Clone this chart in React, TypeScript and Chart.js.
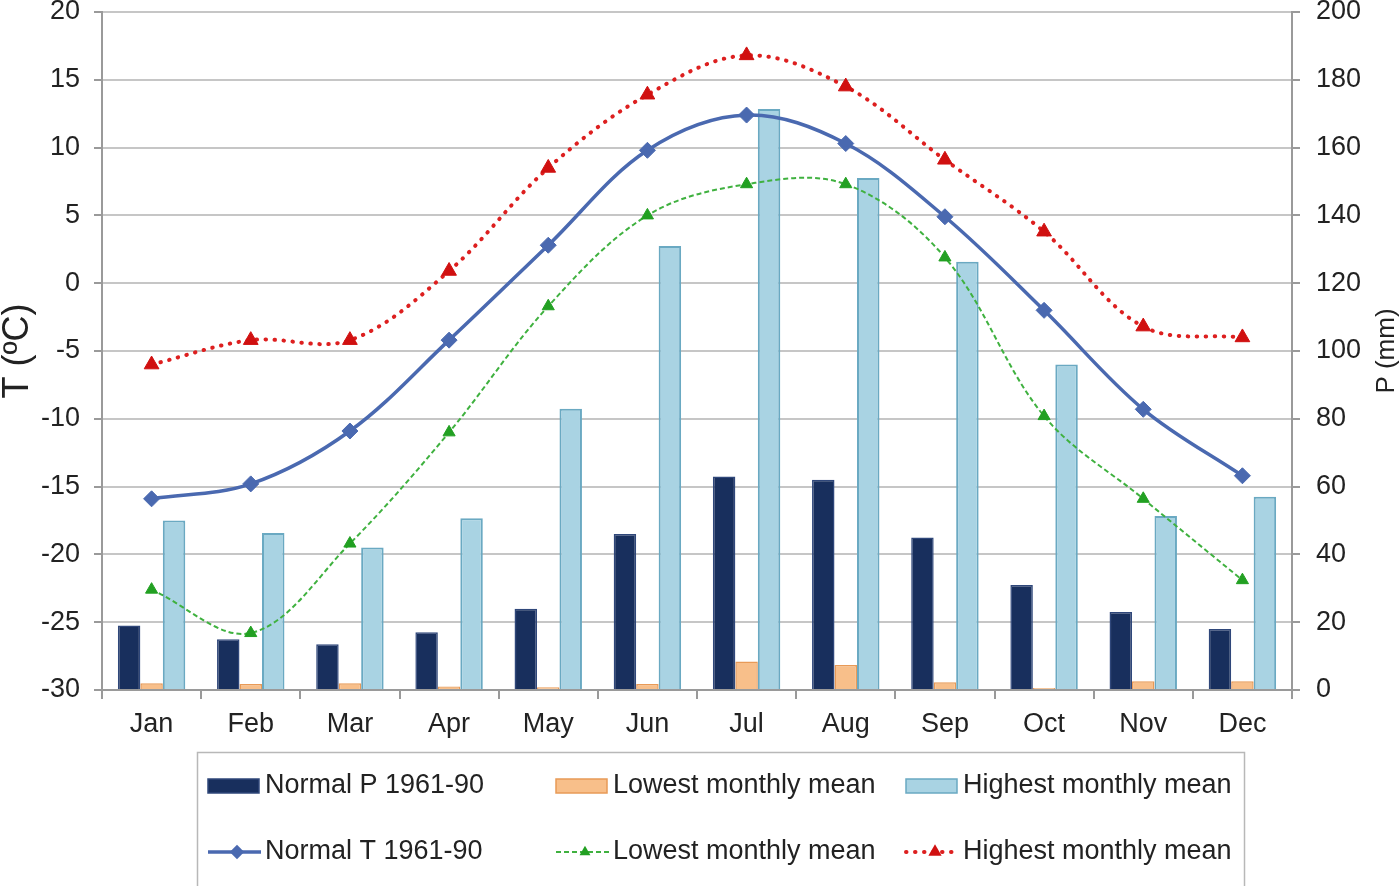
import React, { useEffect, useRef } from 'react';
import { Chart, registerables } from 'chart.js';

Chart.register(...registerables);

const months = ['Jan', 'Feb', 'Mar', 'Apr', 'May', 'Jun', 'Jul', 'Aug', 'Sep', 'Oct', 'Nov', 'Dec'];

// Precipitation (mm), right axis
const normalP = [19, 15, 13.5, 17, 24, 46, 63, 62, 45, 31, 23, 18];
const lowestP = [2, 1.8, 2, 1, 0.8, 1.8, 8.4, 7.4, 2.3, 0.6, 2.6, 2.6];
const highestP = [50, 46.3, 42, 50.7, 83, 131, 171.4, 151, 126.3, 96, 51.3, 57];

// Temperature (ºC), left axis
const normalT = [-15.9, -14.8, -10.9, -4.2, 2.8, 9.8, 12.4, 10.3, 4.9, -2.0, -9.3, -14.2];
const lowestT = [-22.6, -25.8, -19.2, -11.0, -1.7, 5.0, 7.3, 7.3, 1.9, -9.8, -15.9, -21.9];
const highestT = [-6.0, -4.2, -4.2, 0.9, 8.5, 13.9, 16.8, 14.5, 9.1, 3.8, -3.2, -4.0];

const tTicks = { min: -30, max: 20, step: 5 };
const pTicks = { min: 0, max: 200, step: 20 };

const FONT = '"Liberation Sans", Arial, Helvetica, sans-serif';
const TEXT = '#222222';
const AXIS = '#9a9a9a';
const GRID = '#c6c6c6';

function drawMarker(ctx: CanvasRenderingContext2D, style: string, cx: number, cy: number, r: number, color: string) {
  ctx.save();
  ctx.setLineDash([]);
  ctx.fillStyle = color;
  ctx.beginPath();
  if (style === 'rectRot') {
    ctx.moveTo(cx, cy - r);
    ctx.lineTo(cx + r, cy);
    ctx.lineTo(cx, cy + r);
    ctx.lineTo(cx - r, cy);
  } else {
    const h = r * 1.5;
    const w = r * Math.sqrt(3) / 2;
    ctx.moveTo(cx, cy - r);
    ctx.lineTo(cx + w, cy - r + h);
    ctx.lineTo(cx - w, cy - r + h);
  }
  ctx.closePath();
  ctx.fill();
  ctx.restore();
}

const boxLegend = {
  id: 'boxLegend',
  afterDraw(chart: any) {
    const ctx: CanvasRenderingContext2D = chart.ctx;
    ctx.save();
    // right axis title, reading bottom-to-top
    const ca = chart.chartArea;
    ctx.save();
    ctx.translate(1387, (ca.top + ca.bottom) / 2);
    ctx.rotate(-Math.PI / 2);
    ctx.font = `26px ${FONT}`;
    ctx.fillStyle = TEXT;
    ctx.textAlign = 'center';
    ctx.textBaseline = 'middle';
    ctx.fillText('P (mm)', 0, 0);
    ctx.restore();

    ctx.strokeStyle = '#b8b8b8';
    ctx.lineWidth = 1.5;
    ctx.strokeRect(197.5, 752.5, 1047, 160);
    const colX = [208, 556, 906];
    const rowY = [786, 852];
    ctx.font = `27px ${FONT}`;
    ctx.textBaseline = 'middle';
    ctx.fillStyle = TEXT;
    chart.data.datasets.forEach((ds: any, i: number) => {
      const x = colX[i % 3];
      const y = rowY[Math.floor(i / 3)];
      if (ds.type === 'bar') {
        ctx.fillStyle = ds.backgroundColor;
        ctx.fillRect(x, y - 7, 51, 14);
        ctx.strokeStyle = ds.borderColor;
        ctx.lineWidth = 1.5;
        ctx.strokeRect(x, y - 7, 51, 14);
      } else {
        ctx.save();
        ctx.strokeStyle = ds.borderColor;
        ctx.lineWidth = ds.borderWidth;
        ctx.lineCap = ds.borderCapStyle || 'butt';
        ctx.setLineDash(ds.borderDash || []);
        ctx.beginPath();
        ctx.moveTo(x, y);
        ctx.lineTo(x + 53, y);
        ctx.stroke();
        ctx.restore();
        drawMarker(ctx, ds.pointStyle, x + 29, y, ds.pointRadius * 0.9, ds.pointBackgroundColor);
      }
      ctx.fillStyle = TEXT;
      ctx.fillText(ds.label, x + 57, y);
    });
    ctx.restore();
  },
};

export default function App() {
  const ref = useRef<HTMLCanvasElement | null>(null);

  useEffect(() => {
    if (!ref.current) return;
    const tickFont = { family: FONT, size: 27 };
    const chart = new Chart(ref.current, {
      data: {
        labels: months,
        datasets: [
          {
            type: 'bar', label: 'Normal P 1961-90', data: normalP, yAxisID: 'yP', order: 2,
            backgroundColor: '#182f5d', borderColor: '#2f477a', borderWidth: 1.5,
          },
          {
            type: 'bar', label: 'Lowest monthly mean', data: lowestP, yAxisID: 'yP', order: 2,
            backgroundColor: '#f8bf8a', borderColor: '#e89a57', borderWidth: 1.5,
          },
          {
            type: 'bar', label: 'Highest monthly mean', data: highestP, yAxisID: 'yP', order: 2,
            backgroundColor: '#a9d3e3', borderColor: '#6aa9c2', borderWidth: 2,
          },
          {
            type: 'line', label: 'Normal T 1961-90', data: normalT, yAxisID: 'yT', order: 0,
            borderColor: '#4a69b0', borderWidth: 3.5, tension: 0.35, fill: false,
            pointStyle: 'rectRot', pointRadius: 8, pointBackgroundColor: '#4a69b0', pointBorderColor: '#4a69b0', pointBorderWidth: 1,
          },
          {
            type: 'line', label: 'Lowest monthly mean', data: lowestT, yAxisID: 'yT', order: 1,
            borderColor: '#3fb13f', borderWidth: 2, borderDash: [5, 3], tension: 0.35, fill: false,
            pointStyle: 'triangle', pointRadius: 7, pointBackgroundColor: '#22a022', pointBorderColor: '#22a022', pointBorderWidth: 1,
          },
          {
            type: 'line', label: 'Highest monthly mean', data: highestT, yAxisID: 'yT', order: 1,
            borderColor: '#dd1f1f', borderWidth: 4, borderDash: [0.5, 8.5], borderCapStyle: 'round', tension: 0.35, fill: false,
            pointStyle: 'triangle', pointRadius: 8.5, pointBackgroundColor: '#d01010', pointBorderColor: '#d01010', pointBorderWidth: 1,
          },
        ] as any,
      },
      options: {
        animation: false,
        responsive: false,
        devicePixelRatio: 1,
        layout: { padding: 0 },
        plugins: {
          legend: { display: false },
          tooltip: { enabled: false },
        },
        datasets: {
          bar: { categoryPercentage: 0.68, barPercentage: 1 },
        },
        scales: {
          x: {
            type: 'category',
            offset: true,
            grid: { offset: true, drawOnChartArea: false, drawTicks: true, tickLength: 9, color: AXIS, lineWidth: 2 },
            border: { color: AXIS, width: 2 },
            ticks: { font: tickFont, color: TEXT, padding: 9, maxRotation: 0 },
            afterFit: (s: any) => { s.height = 196; s.paddingLeft = 0; s.paddingRight = 0; },
          },
          yT: {
            type: 'linear',
            position: 'left',
            min: tTicks.min, max: tTicks.max,
            ticks: { stepSize: tTicks.step, font: tickFont, color: TEXT, padding: 14 },
            grid: { color: GRID, lineWidth: 2, tickLength: 8, tickColor: AXIS },
            border: { color: AXIS, width: 2 },
            title: { display: true, text: 'T (ºC)', color: TEXT, font: { family: FONT, size: 36, lineHeight: 0.9 }, padding: { top: 2, bottom: 0 } },
            afterFit: (s: any) => { s.width = 102; s.paddingTop = 12; s.paddingBottom = 0; },
          },
          yP: {
            type: 'linear',
            position: 'right',
            min: pTicks.min, max: pTicks.max,
            ticks: { stepSize: pTicks.step, font: tickFont, color: TEXT, padding: 16 },
            grid: { drawOnChartArea: false, color: AXIS, lineWidth: 2, tickLength: 8 },
            border: { color: AXIS, width: 2 },
            title: { display: false },
            afterFit: (s: any) => { s.width = 108; s.paddingTop = 12; s.paddingBottom = 0; },
          },
        },
      } as any,
      plugins: [boxLegend],
    });
    return () => chart.destroy();
  }, []);

  return (
    <div style={{ position: 'fixed', left: 0, top: 0, width: 1400, height: 886, background: '#fff' }}>
      <canvas ref={ref} width={1400} height={886} style={{ display: 'block', width: 1400, height: 886 }} />
    </div>
  );
}
